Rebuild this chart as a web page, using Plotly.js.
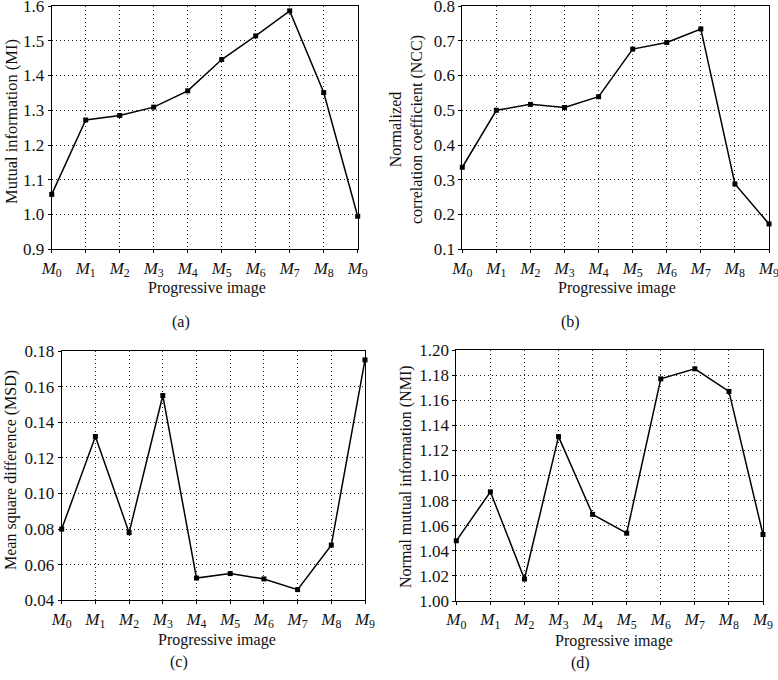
<!DOCTYPE html>
<html>
<head>
<meta charset="utf-8">
<script src="https://cdn.plot.ly/plotly-3.0.1.min.js"></script>
<style>html,body{margin:0;padding:0;background:#fff;}</style>
</head>
<body>
<div id="chart" style="width:778px;height:680px;"></div>
<script>
// Data
const imageIndex = [0, 1, 2, 3, 4, 5, 6, 7, 8, 9];
const tickLabels = ['<i>M</i><sub>0</sub>', '<i>M</i><sub>1</sub>', '<i>M</i><sub>2</sub>', '<i>M</i><sub>3</sub>', '<i>M</i><sub>4</sub>',
                    '<i>M</i><sub>5</sub>', '<i>M</i><sub>6</sub>', '<i>M</i><sub>7</sub>', '<i>M</i><sub>8</sub>', '<i>M</i><sub>9</sub>'];
const miValues  = [1.058, 1.272, 1.285, 1.309, 1.356, 1.446, 1.514, 1.586, 1.351, 0.995];
const nccValues = [0.336, 0.500, 0.517, 0.508, 0.539, 0.676, 0.695, 0.734, 0.288, 0.173];
const msdValues = [0.080, 0.132, 0.078, 0.155, 0.0525, 0.055, 0.052, 0.046, 0.071, 0.175];
const nmiValues = [1.048, 1.087, 1.0175, 1.131, 1.069, 1.054, 1.177, 1.185, 1.167, 1.053];

const W = 778, H = 680;
const FONT = 'Liberation Serif, Times New Roman, serif';
const px = v => v / W;
const py = v => 1 - v / H;

function trace(y, n) {
  return {
    x: imageIndex, y: y, type: 'scatter', mode: 'lines+markers',
    xaxis: 'x' + (n === 1 ? '' : n), yaxis: 'y' + (n === 1 ? '' : n),
    line: {color: '#000', width: 1.5},
    marker: {symbol: 'square', size: 5, color: '#000'},
    cliponaxis: false, showlegend: false, hoverinfo: 'x+y'
  };
}

function xAxis(domain, anchor) {
  return {
    domain: domain, anchor: anchor, range: [0, 9],
    tickmode: 'array', tickvals: imageIndex, ticktext: tickLabels,
    showline: true, mirror: true, linecolor: '#000', linewidth: 1,
    ticks: 'outside', ticklen: 3, tickcolor: '#000',
    showgrid: true, gridcolor: '#222', gridwidth: 1, griddash: '1px,3px',
    zeroline: false, ticklabeloverflow: 'allow',
    tickfont: {family: FONT, size: 17, color: '#111'}
  };
}
function yAxis(domain, anchor, range, dtick, fmt) {
  return {
    domain: domain, anchor: anchor, range: range, dtick: dtick, tick0: range[0], tickformat: fmt,
    showline: true, mirror: true, linecolor: '#000', linewidth: 1,
    ticks: 'outside', ticklen: 3, tickcolor: '#000',
    showgrid: true, gridcolor: '#222', gridwidth: 1, griddash: '1px,3px',
    zeroline: false, ticklabeloverflow: 'allow',
    tickfont: {family: FONT, size: 17, color: '#111'}
  };
}

const data = [trace(miValues, 1), trace(nccValues, 2), trace(msdValues, 3), trace(nmiValues, 4)];

function ann(text, x, y, angle, size) {
  return {text: text, x: px(x), y: py(y), xref: 'paper', yref: 'paper',
          xanchor: 'center', yanchor: 'middle', showarrow: false, textangle: angle || 0,
          font: {family: FONT, size: size || 16, color: '#111'}};
}

const layout = {
  width: W, height: H,
  margin: {l: 0, r: 0, t: 0, b: 0},
  paper_bgcolor: '#fff', plot_bgcolor: '#fff',
  xaxis:  xAxis([px(51.7), px(357.7)], 'y'),
  yaxis:  yAxis([py(249.3), py(6)], 'x', [0.9, 1.6], 0.1, '.1f'),
  xaxis2: xAxis([px(462.3), px(769)], 'y2'),
  yaxis2: yAxis([py(249.3), py(6)], 'x2', [0.1, 0.8], 0.1, '.1f'),
  xaxis3: xAxis([px(61.7), px(365)], 'y3'),
  yaxis3: yAxis([py(600.3), py(351)], 'x3', [0.04, 0.18], 0.02, '.2f'),
  xaxis4: xAxis([px(456.3), px(763)], 'y4'),
  yaxis4: yAxis([py(601), py(350)], 'x4', [1.0, 1.2], 0.02, '.2f'),
  annotations: [
    ann('Mutual information (MI)', 11, 122, -90, 16.5),
    ann('Normalized<br>correlation coefficient (NCC)', 406, 130, -90),
    ann('Mean square difference (MSD)', 11, 470, -90),
    ann('Normal mutual information (NMI)', 406, 477, -90),
    ann('Progressive image', 207, 288),
    ann('Progressive image', 617, 288),
    ann('Progressive image', 217, 640),
    ann('Progressive image', 614, 641),
    ann('(a)', 181, 322),
    ann('(b)', 570, 322),
    ann('(c)', 179, 662),
    ann('(d)', 580, 663)
  ]
};

Plotly.newPlot('chart', data, layout, {displayModeBar: false, staticPlot: true});
</script>
</body>
</html>
